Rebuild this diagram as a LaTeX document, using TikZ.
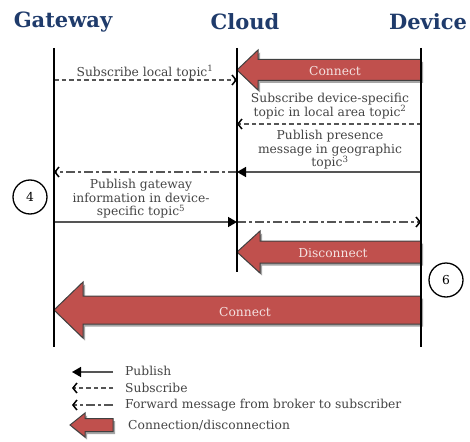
\documentclass[tikz,border=0pt]{standalone}
\usepackage{fontspec}
\setmainfont{DejaVu Serif}
\usetikzlibrary{arrows.meta,calc}
\definecolor{navy}{HTML}{1F3B6B}
\definecolor{txtgray}{HTML}{444444}
\definecolor{linegray}{HTML}{555555}
\definecolor{connred}{HTML}{C0504D}
\definecolor{conntext}{HTML}{F4E2E1}
% outline of a left-pointing block arrow: tip, tail, shaft half, head half, head length
\newcommand{\bigarrowpath}[5]{($(#2)+(0,-#3)$) -- ($(#1)+(#5,-#3)$) -- ($(#1)+(#5,-#4)$) -- (#1) -- ($(#1)+(#5,#4)$) -- ($(#1)+(#5,#3)$) -- ($(#2)+(0,#3)$) -- cycle}
\begin{document}
\begin{tikzpicture}[x=1pt,y=-1pt]
        \tikzstyle{every node}=[font=\fontsize{12.3}{13.5}\selectfont, text=txtgray, align=center, inner sep=0pt]
        \tikzstyle{header}=[font=\fontsize{21}{23}\selectfont\bfseries, text=navy]
        \tikzstyle{lifeline}=[black, line width=1.7pt]
        \tikzstyle{publish}=[linegray, line width=1.5pt, -{Triangle[length=9pt,width=10pt,black]}]
        \tikzstyle{subscribe}=[linegray, line width=1.5pt, dash pattern=on 4.5pt off 3pt, -{Straight Barb[length=4pt,width=10pt,black,line width=1.5pt]}]
        \tikzstyle{forward}=[linegray, line width=1.5pt, dash pattern=on 9pt off 3pt on 3pt off 3pt, -{Straight Barb[length=4pt,width=10pt,black,line width=1.5pt]}]
        \tikzstyle{stepmark}=[circle, draw=black, line width=1.3pt, minimum size=34pt, text=black]
        \tikzstyle{blockarrow}=[fill=connred, draw=black!75, line width=1pt]
        \tikzstyle{blockshadow}=[fill=black!35, draw=none, transform canvas={shift={(2pt,-2.5pt)}}]
        \tikzstyle{blocklabel}=[text=conntext]

        \useasboundingbox (0,0) rectangle (470,441);

        % headers
        \node[header] (gateway) at (63,22)  {Gateway};
        \node[header] (cloud)   at (245,22) {Cloud};
        \node[header] (device)  at (428,22) {Device};

        % lifelines
        \coordinate (gtop) at (54,48);  \coordinate (gbot) at (54,347);
        \coordinate (ctop) at (237,48); \coordinate (cbot) at (237,272);
        \coordinate (dtop) at (421,48); \coordinate (dbot) at (421,347);

        % message rows
        \foreach \r/\y in {a/80, b/124, c/172, d/222, k/70, x/252, z/310} {
            \coordinate (g\r) at (54,\y);
            \coordinate (c\r) at (237,\y);
            \coordinate (d\r) at (421,\y);
        }

        % connect / disconnect
        \fill[blockshadow] \bigarrowpath{ck}{dk}{10.5}{20}{21};
        \draw[blockarrow]  \bigarrowpath{ck}{dk}{10.5}{20}{21};
        \node[blocklabel] (connect1) at (335,71) {Connect};

        \fill[blockshadow] \bigarrowpath{cx}{dx}{11}{21}{23};
        \draw[blockarrow]  \bigarrowpath{cx}{dx}{11}{21}{23};
        \node[blocklabel] (disconnect) at (333,253) {Disconnect};

        \fill[blockshadow] \bigarrowpath{gz}{dz}{14}{28}{29};
        \draw[blockarrow]  \bigarrowpath{gz}{dz}{14}{28}{29};
        \node[blocklabel] (connect2) at (245,312) {Connect};

        % messages
        \node (sublocal) at (145,72) {Subscribe local topic\textsuperscript{1}};
        \draw[subscribe] (ga) -- (ca);

        \node (subdevice) at (330,106) {Subscribe device-specific\\topic in local area topic\textsuperscript{2}};
        \draw[subscribe] (db) -- (cb);

        \node (presence) at (330,150) {Publish presence\\message in geographic\\topic\textsuperscript{3}};
        \draw[publish] (dc) -- (cc);
        \draw[forward] (cc) -- (gc);

        \node (gwinfo) at (141,199) {Publish gateway\\information in device-\\specific topic\textsuperscript{5}};
        \draw[publish] (gd) -- (cd);
        \draw[forward] (cd) -- (dd);

        \node[stepmark] (four) at (30,197) {4};
        \node[stepmark] (six) at (446,280) {6};

        \draw[lifeline] (gtop) -- (gbot);
        \draw[lifeline] (ctop) -- (cbot);
        \draw[lifeline] (dtop) -- (dbot);

        % legend
        \coordinate (lpa) at (72,372);  \coordinate (lpb) at (113,372);
        \coordinate (lsa) at (72,388);  \coordinate (lsb) at (113,388);
        \coordinate (lfa) at (72,405);  \coordinate (lfb) at (113,405);
        \coordinate (lca) at (70,425);  \coordinate (lcb) at (113,425);
        \draw[publish] (lpb) -- (lpa);
        \draw[subscribe] (lsb) -- (lsa);
        \draw[forward] (lfb) -- (lfa);
        \fill[blockshadow] \bigarrowpath{lca}{lcb}{6.5}{12}{15};
        \draw[blockarrow]  \bigarrowpath{lca}{lcb}{6.5}{12}{15};

        \node[anchor=west] (lpublish) at (125,371) {Publish};
        \node[anchor=west] (lsubscribe) at (125,388) {Subscribe};
        \node[anchor=west] (lforward) at (125,405) {Forward message from broker to subscriber};
        \node[anchor=west] (lconnect) at (128,425) {Connection/disconnection};
\end{tikzpicture}
\end{document}
